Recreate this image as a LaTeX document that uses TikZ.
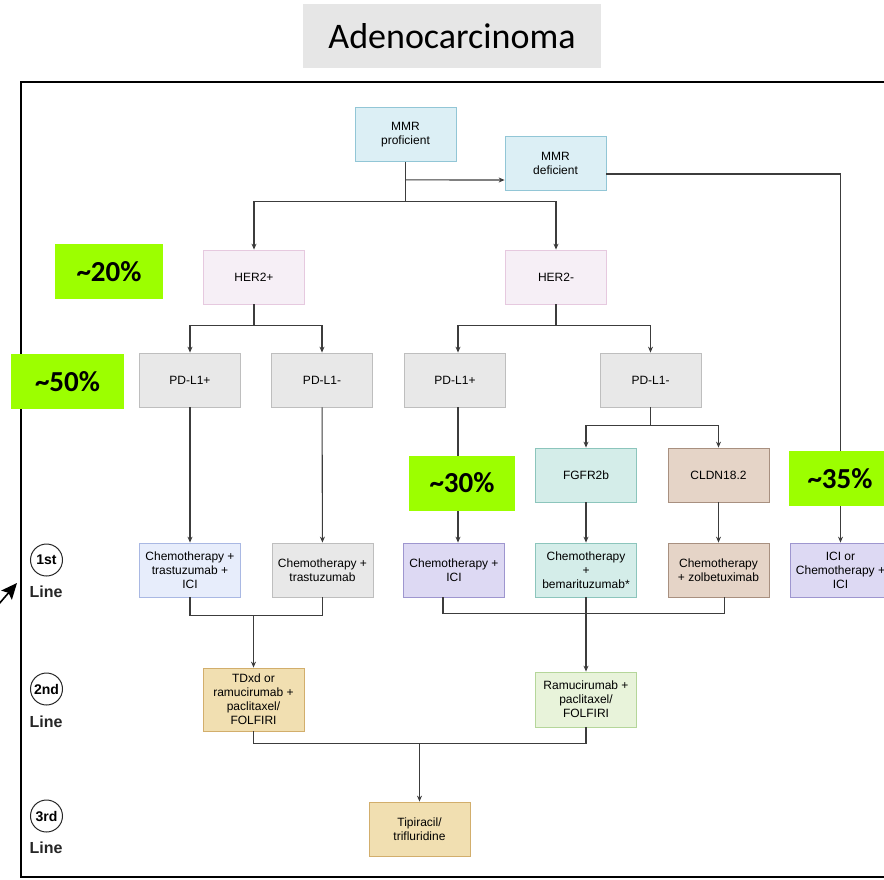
\documentclass[tikz,border=0pt]{standalone}
\usepackage{fontspec}
\setmainfont{Liberation Sans}
\newfontfamily\calibri{Carlito}
\usetikzlibrary{shapes.geometric, arrows, arrows.meta}
\definecolor{mmrfill}{HTML}{DCEFF5}
\definecolor{mmrline}{HTML}{92C6D6}
\definecolor{herfill}{HTML}{F6EFF6}
\definecolor{herline}{HTML}{E6C9DF}
\definecolor{pdfill}{HTML}{E8E8E8}
\definecolor{pdline}{HTML}{BEBEBE}
\definecolor{fgfrfill}{HTML}{D4EDE9}
\definecolor{fgfrline}{HTML}{8CC5BC}
\definecolor{cldnfill}{HTML}{E5D4C7}
\definecolor{cldnline}{HTML}{A89080}
\definecolor{icifill}{HTML}{DDD9F3}
\definecolor{iciline}{HTML}{9E96CF}
\definecolor{trasfill}{HTML}{E7EDFB}
\definecolor{trasline}{HTML}{A9B8E3}
\definecolor{tanfill}{HTML}{F1DFB1}
\definecolor{tanline}{HTML}{D2AE6C}
\definecolor{ramufill}{HTML}{E8F3DA}
\definecolor{ramuline}{HTML}{B5D69A}
\definecolor{pctgreen}{HTML}{9CFF00}
\definecolor{titlegray}{HTML}{E6E6E6}
\definecolor{linkgray}{HTML}{3C3C3C}
\tikzstyle{cell} = [rectangle, minimum width=101pt, minimum height=54pt, inner sep=1pt, text centered, align=center, font=\fontsize{12}{14}\selectfont, line width=0.8pt]
\tikzstyle{mmr} = [cell, draw=mmrline, fill=mmrfill]
\tikzstyle{her} = [cell, draw=herline, fill=herfill]
\tikzstyle{pd} = [cell, draw=pdline, fill=pdfill]
\tikzstyle{fgfr} = [cell, draw=fgfrline, fill=fgfrfill]
\tikzstyle{cldn} = [cell, draw=cldnline, fill=cldnfill]
\tikzstyle{ici} = [cell, draw=iciline, fill=icifill]
\tikzstyle{tras} = [cell, draw=trasline, fill=trasfill]
\tikzstyle{tan} = [cell, draw=tanline, fill=tanfill]
\tikzstyle{ramu} = [cell, draw=ramuline, fill=ramufill]
\tikzstyle{pct} = [rectangle, minimum height=55pt, fill=pctgreen, text centered, font=\calibri\bfseries\fontsize{29}{32}\selectfont]
\tikzstyle{titlebox} = [rectangle, minimum width=298pt, minimum height=64pt, fill=titlegray, font=\calibri\fontsize{36}{38}\selectfont]
\tikzstyle{badge} = [circle, draw=black!85, line width=1pt, minimum size=32pt, inner sep=0pt, font=\bfseries\fontsize{14}{15}\selectfont]
\tikzstyle{linetext} = [font=\bfseries\fontsize{16}{18}\selectfont, text=black!85, inner sep=0pt]
\tikzstyle{link} = [line width=1.1pt, draw=linkgray]
\tikzstyle{arrow} = [link, -{Stealth[length=6pt,width=5pt]}]

\begin{document}
\begin{tikzpicture}[x=1pt, y=-1pt]
\clip (0,0) rectangle (884,879);
\node (title) [titlebox] at (452,36) {Adenocarcinoma};
\draw [line width=1.6pt] (21,82) rectangle (900,877);
% line badges
\node (b1) [badge] at (46.5,560) {1st};
\node (l1) [linetext] at (46,592) {Line};
\node (b2) [badge] at (46.5,689) {2nd};
\node (l2) [linetext] at (46,722) {Line};
\node (b3) [badge] at (46.5,816) {3rd};
\node (l3) [linetext] at (46,848) {Line};
\coordinate (ptrtail) at (-8,612);
\coordinate (ptrhead) at (17,583);
\draw [line width=1.6pt, -{Stealth[length=16pt,width=14pt,inset=3pt]}] (ptrtail) -- (ptrhead);
% boxes
\node (prof) [mmr] at (405.5,134.5) {MMR\\proficient};
\node (defi) [mmr] at (555.5,163) {MMR\\deficient};
\node (herp) [her] at (254,277) {HER2+};
\node (herm) [her] at (556,277) {HER2-};
\node (pdlp) [pd] at (190,380) {PD-L1+};
\node (pdlm) [pd] at (322,380) {PD-L1-};
\node (pdrp) [pd] at (455,380) {PD-L1+};
\node (pdrm) [pd] at (650.5,380) {PD-L1-};
\node (fgfr) [fgfr] at (586,475) {FGFR2b};
\node (cldn) [cldn] at (718.5,475) {CLDN18.2};
\node (ctici) [tras] at (190,570) {Chemotherapy +\\trastuzumab +\\ICI};
\node (ct) [pd] at (322.5,570) {Chemotherapy +\\trastuzumab};
\node (cici) [ici] at (454,570) {Chemotherapy +\\ICI};
\node (cbem) [fgfr] at (586,570) {Chemotherapy\\+\\bemarituzumab*};
\node (czol) [cldn] at (718.5,570) {Chemotherapy\\+ zolbetuximab};
\node (iciml) [ici] at (840.5,570) {ICI or\\Chemotherapy +\\ICI};
\node (tdxd) [tan, minimum height=63pt] at (253.5,699.5) {TDxd or\\ramucirumab +\\paclitaxel/\\FOLFIRI};
\node (ramu) [ramu, minimum height=55pt] at (586,699.5) {Ramucirumab +\\paclitaxel/\\FOLFIRI};
\node (tipi) [tan] at (419.5,829) {Tipiracil/\\trifluridine};
% connectors
\draw [link] (prof.south) -- ++(0,40) coordinate (mmrfork);
\draw [arrow] (prof.south) ++(0,18) -- ([yshift=-17pt]defi.west);
\draw [arrow] (mmrfork) -| (herp.north);
\draw [arrow] (mmrfork) -| (herm.north);
\draw [arrow] ([yshift=-11pt]defi.east) -| (iciml.north);
\draw [link] (herp.south) -- ++(0,21) coordinate (herpfork);
\draw [arrow] (herpfork) -| (pdlp.north);
\draw [arrow] (herpfork) -| (pdlm.north);
\draw [link] (herm.south) -- ++(0,21) coordinate (hermfork);
\draw [arrow] (hermfork) -| ([xshift=3pt]pdrp.north);
\draw [arrow] (hermfork) -| (pdrm.north);
\draw [link] (pdrm.south) -- ++(0,18) coordinate (pdrmfork);
\draw [arrow] (pdrmfork) -| (fgfr.north);
\draw [arrow] (pdrmfork) -| (cldn.north);
\draw [arrow] (pdlp) -- (ctici);
\draw [arrow] (pdlm) -- (ct);
\draw [arrow] ([xshift=3pt]pdrp.south) -- ([xshift=3pt]pdrp.south |- cici.north);
\draw [arrow] (fgfr) -- (cbem);
\draw [arrow] (cldn) -- (czol);
\draw [link] (ctici.south) -- ++(0,18) coordinate (lftbar) -| (ct.south);
\draw [arrow] (lftbar -| tdxd.north) -- (tdxd.north);
\draw [link] ([xshift=-11pt]cici.south) -- ++(0,16) coordinate (rgtbar) -| ([xshift=6pt]czol.south);
\draw [link] (cbem.south) -- (rgtbar -| cbem.south);
\draw [arrow] (rgtbar -| ramu.north) -- (ramu.north);
\draw [link] (tdxd.south) -- ++(0,12) coordinate (btmbar) -| (ramu.south);
\draw [arrow] (btmbar -| tipi.north) -- (tipi.north);
% shares on top
\node (p20) [pct, minimum width=108pt] at (109,271.5) {\textasciitilde20\%};
\node (p50) [pct, minimum width=113pt] at (67.5,381.5) {\textasciitilde50\%};
\node (p30) [pct, minimum width=106pt] at (462,483) {\textasciitilde30\%};
\node (p35) [pct, minimum width=102pt] at (840,478.5) {\textasciitilde35\%};
\end{tikzpicture}
\end{document}
